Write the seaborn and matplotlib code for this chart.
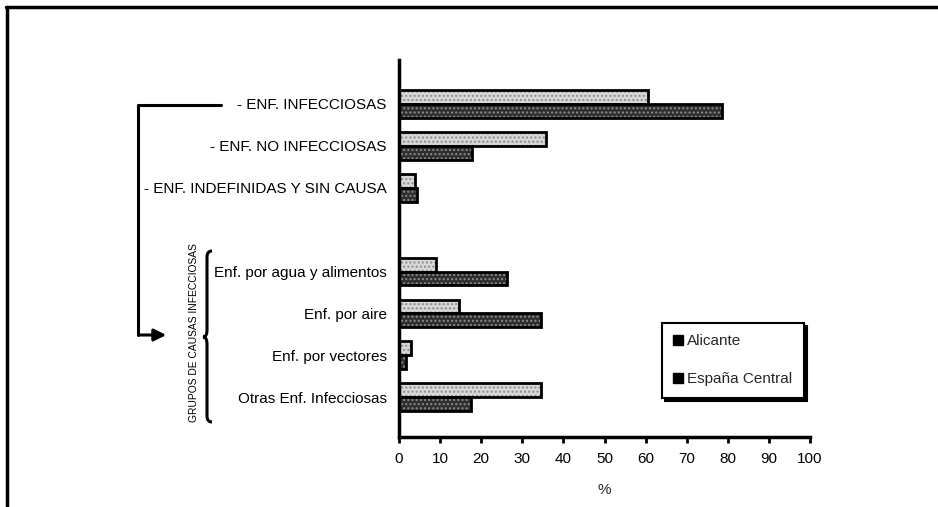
import matplotlib.pyplot as plt
import numpy as np
import pandas as pd
import seaborn as sns
from matplotlib import font_manager
from matplotlib.lines import Line2D
from matplotlib.patches import FancyArrowPatch, PathPatch, Rectangle
from matplotlib.path import Path

categories = [
    "- ENF. INFECCIOSAS",
    "- ENF. NO INFECCIOSAS",
    "- ENF. INDEFINIDAS Y SIN CAUSA",
    "Enf. por agua y alimentos",
    "Enf. por aire",
    "Enf. por vectores",
    "Otras Enf. Infecciosas",
]
series = ["Alicante", "España Central"]
alicante = [60.5, 35.7, 3.9, 9.1, 14.6, 3.0, 34.6]
espana = [78.6, 17.7, 4.5, 26.2, 34.6, 1.6, 17.5]
x_ticks = [0, 10, 20, 30, 40, 50, 60, 70, 80, 90, 100]
group_label = "GRUPOS DE CAUSAS INFECCIOSAS"

W, H = 938, 507


def fig_xy(x, y):
    """Pixel position in the reference -> figure fraction."""
    return x / W, 1 - y / H


sns.set_theme(style="white")
plt.rcParams["font.family"] = ["Liberation Sans", "DejaVu Sans"]
plt.rcParams["hatch.linewidth"] = 1.0

fig = plt.figure(figsize=(W / 100, H / 100), dpi=100)
ax = fig.add_axes([399 / W, 1 - 437 / H, (810 - 399) / W, (437 - 60) / H])

df = pd.DataFrame({
    "causa": categories * 2,
    "serie": [series[0]] * len(categories) + [series[1]] * len(categories),
    "pct": alicante + espana,
})
# blank slot between the main causes and the infectious sub-groups
order = categories[:3] + [" "] + categories[3:]

light, dark = "#d8d8d8", "#2e2e2e"
sns.barplot(data=df, y="causa", x="pct", hue="serie", order=order,
            hue_order=series, orient="h", width=0.66, palette=[light, dark],
            saturation=1, legend=False, ax=ax)

# stippled fill + separate black outline
for p in list(ax.patches):
    if not np.isfinite(p.get_width()):
        continue
    p.set_hatch("....")
    p.set_edgecolor("#8c8c8c")
    p.set_linewidth(0)
    ax.add_patch(Rectangle((p.get_x(), p.get_y()), p.get_width(), p.get_height(),
                           fill=False, edgecolor="black", linewidth=2, zorder=3))

ax.set_xlim(0, 100)
ax.set_ylim(7.95, -1.05)
ax.set_xticks(x_ticks)
ax.set_xlabel("%", fontsize=11, labelpad=12)
ax.set_ylabel("")
ax.tick_params(axis="y", length=0, pad=9, labelsize=11, colors="black")
ax.tick_params(axis="x", length=4, width=2, pad=7, labelsize=11, colors="black",
               direction="out", bottom=True)
for s in ["top", "right"]:
    ax.spines[s].set_visible(False)
for s in ["left", "bottom"]:
    ax.spines[s].set_linewidth(2.5)
    ax.spines[s].set_color("black")

handles = [Line2D([], [], marker="s", linestyle="none", markersize=7,
                  markerfacecolor="black", markeredgecolor="black") for _ in series]
leg = fig.legend(handles, series, loc="upper left",
                 bbox_to_anchor=fig_xy(662, 323), frameon=True, fancybox=False,
                 fontsize=11, handlelength=0.6, handletextpad=0.3,
                 labelspacing=1.55, borderpad=0.75, borderaxespad=0,
                 shadow={"color": "black", "alpha": 1, "ox": 2.2, "oy": -2.2})
leg.get_frame().set_edgecolor("black")
leg.get_frame().set_linewidth(1.5)

# outer frame (top and left only)
fig.add_artist(Line2D([6 / W, 1], [1 - 7 / H] * 2, color="black", lw=2.5))
fig.add_artist(Line2D([7 / W] * 2, [1 - 7 / H, 0], color="black", lw=2.5))

# connector from the infectious causes to the sub-group brace
x0, y0 = fig_xy(221, 105)
x1, y1 = fig_xy(138, 335)
fig.add_artist(Line2D([x0, x1, x1], [y0, y0, y1], color="black", lw=2.2))
fig.add_artist(FancyArrowPatch(fig_xy(137, 335), fig_xy(169, 335),
                               transform=fig.transFigure, arrowstyle="-|>",
                               mutation_scale=18, color="black", lw=2.2))

# curly brace
bx = [212, 207, 207, 203, 207, 207, 212]
by = [251, 257, 330, 337, 344, 416, 422]
pts = [fig_xy(a, b) for a, b in zip(bx, by)]
verts = [pts[0], (pts[1][0], pts[0][1]), pts[1], pts[2], (pts[2][0], pts[3][1]), pts[3],
         (pts[2][0], pts[3][1]), pts[4], pts[5], (pts[5][0], pts[6][1]), pts[6]]
codes = [Path.MOVETO, Path.CURVE3, Path.CURVE3, Path.LINETO, Path.CURVE3, Path.CURVE3,
         Path.CURVE3, Path.CURVE3, Path.LINETO, Path.CURVE3, Path.CURVE3]
fig.add_artist(PathPatch(Path(verts, codes), transform=fig.transFigure,
                         fill=False, edgecolor="black", lw=2.2))

names = {f.name for f in font_manager.fontManager.ttflist}
if "Liberation Sans Narrow" in names:
    gfam, gsize = "Liberation Sans Narrow", 8.6
else:
    gfam, gsize = "Liberation Sans", 7.4
gx, gy = fig_xy(194, 333)
fig.text(gx, gy, group_label, rotation=90, ha="center", va="center",
         fontsize=gsize, family=gfam, color="black")

fig.savefig("out.png", dpi=100, facecolor="white")
